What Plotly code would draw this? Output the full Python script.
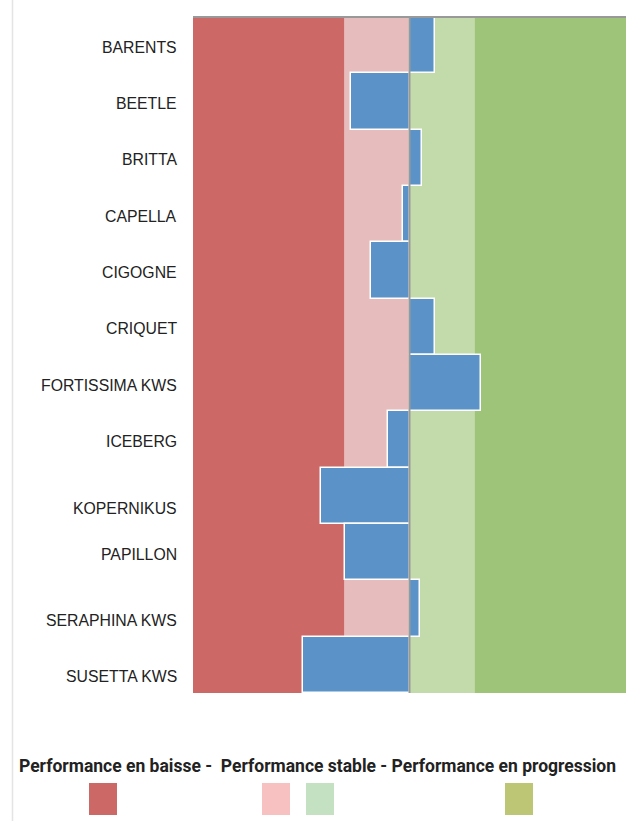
import plotly.graph_objects as go

# ---- data ----
varieties = ["BARENTS", "BEETLE", "BRITTA", "CAPELLA", "CIGOGNE", "CRIQUET",
             "FORTISSIMA KWS", "ICEBERG", "KOPERNIKUS", "PAPILLON",
             "SERAPHINA KWS", "SUSETTA KWS"]
performance = [1.2, -2.7, 0.6, -0.3, -1.8, 1.2, 3.3, -1.0, -4.1, -3.0, 0.5, -4.9]
band_edges = [-10, -3, 0, 3, 10]
band_colors = ["#CC6966", "#E6BDBC", "#C3DBAB", "#9EC47A"]
legend_text = "Performance en baisse -  Performance stable - Performance en progression"
legend_colors = ["#CC6966", "#F8C1C1", "#C4E2C1", "#BCC674"]

# ---- style ----
W, H = 626, 821
ML, MR, MT, MB = 193, 0, 17, 128
label_yshift = [-2, -2, -2, -2, -2, -2, -2, -2, -13, -2, -12, -12]
swatch_px = [89, 262, 306, 505]

PW = W - ML - MR
PH = H - MT - MB


def px_x(px):
    return (px - ML) / PW


def px_y(py):
    return (H - MB - py) / PH


fig = go.Figure()

fig.add_trace(go.Bar(
    x=performance, y=varieties, orientation="h",
    marker=dict(color="#5B93C9", line=dict(color="white", width=1.5)),
    width=1, hoverinfo="x+y", showlegend=False,
))

shapes = []
for i, c in enumerate(band_colors):
    shapes.append(dict(type="rect", xref="x", yref="paper",
                       x0=band_edges[i], x1=band_edges[i + 1], y0=0, y1=1,
                       fillcolor=c, line=dict(width=0), layer="below"))
# center line
shapes.append(dict(type="line", xref="x", yref="paper", x0=0, x1=0, y0=0, y1=1,
                   line=dict(color="#999999", width=2), layer="above"))
# top line
shapes.append(dict(type="line", xref="paper", yref="paper", x0=0, x1=1, y0=1, y1=1,
                   line=dict(color="#999999", width=2), layer="above"))
# faint left border line
shapes.append(dict(type="line", xref="paper", yref="paper",
                   x0=px_x(12.5), x1=px_x(12.5), y0=px_y(0), y1=px_y(H),
                   line=dict(color="#E4E4E4", width=1.5), layer="above"))
# legend swatches
for px, c in zip(swatch_px, legend_colors):
    shapes.append(dict(type="rect", xref="paper", yref="paper",
                       x0=px_x(px), x1=px_x(px + 28), y0=px_y(815), y1=px_y(783),
                       fillcolor=c, line=dict(width=0)))

annotations = []
for name, dy in zip(varieties, label_yshift):
    annotations.append(dict(x=px_x(179), xref="paper", y=name, yref="y",
                            text=name, showarrow=False, xanchor="right",
                            yanchor="middle", yshift=dy,
                            font=dict(family="Liberation Sans, Arial", size=15.8, color="#222222")))
annotations.append(dict(x=px_x(18), xref="paper", y=px_y(766), yref="paper",
                        text="<b>" + legend_text + "</b>", showarrow=False,
                        xanchor="left", yanchor="middle", borderpad=0,
                        font=dict(family="Roboto", size=17.5, color="#222222")))

fig.update_layout(
    width=W, height=H,
    margin=dict(l=ML, r=MR, t=MT, b=MB),
    paper_bgcolor="white", plot_bgcolor="white",
    bargap=0,
    shapes=shapes, annotations=annotations,
    xaxis=dict(range=[band_edges[0], band_edges[-1]], showgrid=False, zeroline=False,
               showticklabels=False, ticks="", fixedrange=True),
    yaxis=dict(categoryorder="array", categoryarray=varieties, autorange="reversed",
               showgrid=False, zeroline=False, showticklabels=False, ticks="",
               fixedrange=True),
)

fig.write_html("out.html")
